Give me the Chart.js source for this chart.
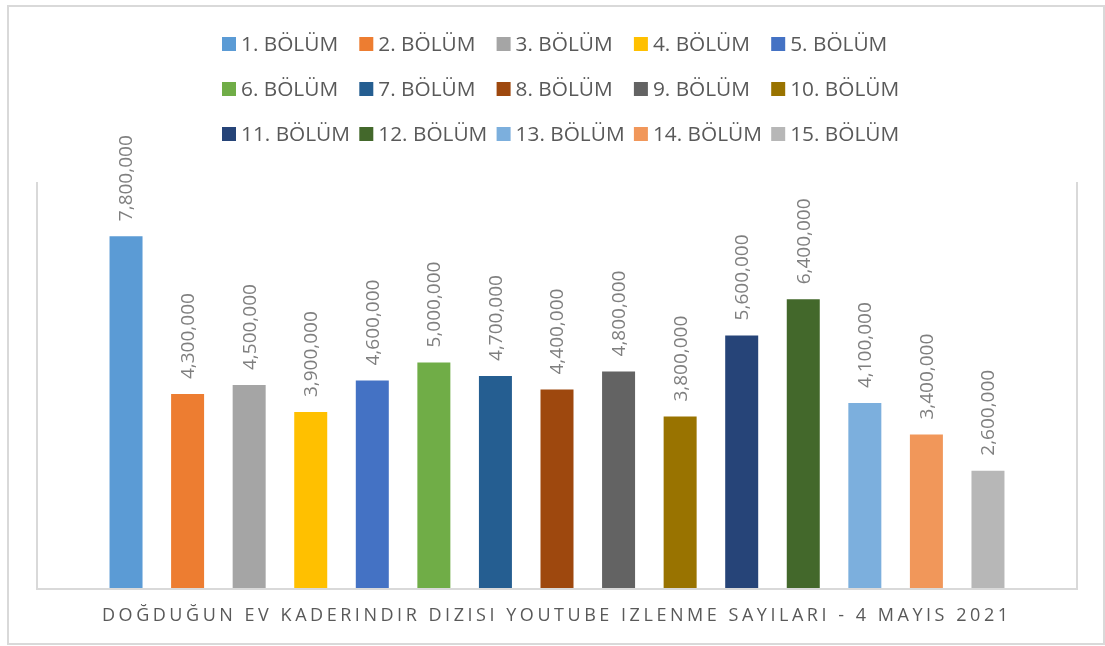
<!DOCTYPE html>
<html>
<head>
<meta charset="utf-8">
<script src="https://cdn.jsdelivr.net/npm/chart.js@4.4.1/dist/chart.umd.min.js"></script>
<style>
  html, body { margin: 0; padding: 0; background: #ffffff; }
  #frame { position: absolute; left: 7px; top: 5px; width: 1094px; height: 636px; border: 2px solid #d9d9d9; }
  #c { position: absolute; left: 0; top: 0; }
</style>
</head>
<body>
<div id="frame"></div>
<canvas id="c" width="1105" height="646"></canvas>
<script>
// ---- data ----
const categories = ["DOĞDUĞUN EV KADERINDIR DIZISI YOUTUBE IZLENME SAYILARI - 4 MAYIS 2021"];
const seriesNames = ["1. BÖLÜM","2. BÖLÜM","3. BÖLÜM","4. BÖLÜM","5. BÖLÜM","6. BÖLÜM","7. BÖLÜM","8. BÖLÜM","9. BÖLÜM","10. BÖLÜM","11. BÖLÜM","12. BÖLÜM","13. BÖLÜM","14. BÖLÜM","15. BÖLÜM"];
const seriesValues = [7800000,4300000,4500000,3900000,4600000,5000000,4700000,4400000,4800000,3800000,5600000,6400000,4100000,3400000,2600000];
const seriesColors = ["#5B9BD5","#ED7D31","#A5A5A5","#FFC000","#4472C4","#70AD47","#255E91","#9E480E","#636363","#997300","#264478","#43682B","#7CAFDD","#F1975A","#B7B7B7"];
const yMin = 0, yMax = 9000000;

const fmt = v => v.toLocaleString('en-US');

const datasets = seriesNames.map((name, i) => ({
  label: name,
  data: [seriesValues[i]],
  backgroundColor: seriesColors[i],
  borderWidth: 0,
  categoryPercentage: 0.8897,
  barPercentage: 0.536
}));

const decor = {
  id: 'decor',
  beforeDatasetsDraw(chart) {
    const {ctx, chartArea: a} = chart;
    ctx.save();
    ctx.strokeStyle = '#d9d9d9';
    ctx.lineWidth = 2;
    ctx.beginPath();
    ctx.moveTo(a.left - 1, a.top);
    ctx.lineTo(a.left - 1, a.bottom + 1);
    ctx.lineTo(a.right + 1, a.bottom + 1);
    ctx.lineTo(a.right + 1, a.top);
    ctx.stroke();
    ctx.restore();
  },
  afterDatasetsDraw(chart) {
    const ctx = chart.ctx;
    ctx.save();
    ctx.font = '19px "Open Sans"';
    ctx.fillStyle = '#7f7f7f';
    ctx.textAlign = 'left';
    ctx.textBaseline = 'middle';
    chart.data.datasets.forEach((ds, i) => {
      const el = chart.getDatasetMeta(i).data[0];
      ctx.save();
      ctx.translate(el.x + 1, el.y - 15);
      ctx.rotate(-Math.PI / 2);
      ctx.fillText(fmt(ds.data[0]), 0, 0);
      ctx.restore();
    });
    ctx.restore();
  },
  afterDraw(chart) {
    const ctx = chart.ctx;
    // legend grid (5 columns x 3 rows)
    ctx.save();
    ctx.font = '20.8px "Open Sans"';
    ctx.textBaseline = 'middle';
    ctx.textAlign = 'left';
    chart.data.datasets.forEach((ds, i) => {
      const col = i % 5, row = Math.floor(i / 5);
      const bx = 222 + col * 137.3, cy = 44 + row * 45;
      ctx.fillStyle = ds.backgroundColor;
      ctx.fillRect(bx, cy - 7, 14, 14);
      ctx.fillStyle = '#595959';
      ctx.fillText(ds.label, bx + 19, cy + 1);
    });
    ctx.restore();
    // category axis title (spaced capitals)
    ctx.save();
    ctx.font = '18px "Open Sans"';
    ctx.fillStyle = '#595959';
    ctx.textBaseline = 'middle';
    const text = chart.data.labels[0];
    const w0 = ctx.measureText(text).width;
    const targetW = 906;
    const sp = (targetW - w0) / (text.length - 1);
    ctx.letterSpacing = sp + 'px';
    ctx.textAlign = 'left';
    const cx = (chart.chartArea.left + chart.chartArea.right) / 2 - 2;
    ctx.fillText(text, cx - targetW / 2, 616);
    ctx.restore();
  }
};

new Chart(document.getElementById('c'), {
  type: 'bar',
  data: { labels: categories, datasets },
  options: {
    responsive: false,
    animation: false,
    layout: { padding: { left: 38, right: 29, top: 182, bottom: 58 } },
    plugins: { legend: { display: false }, tooltip: { enabled: false }, title: { display: false } },
    scales: {
      x: { display: false, offset: true },
      y: { display: false, min: yMin, max: yMax }
    }
  },
  plugins: [decor]
});
</script>
</body>
</html>
